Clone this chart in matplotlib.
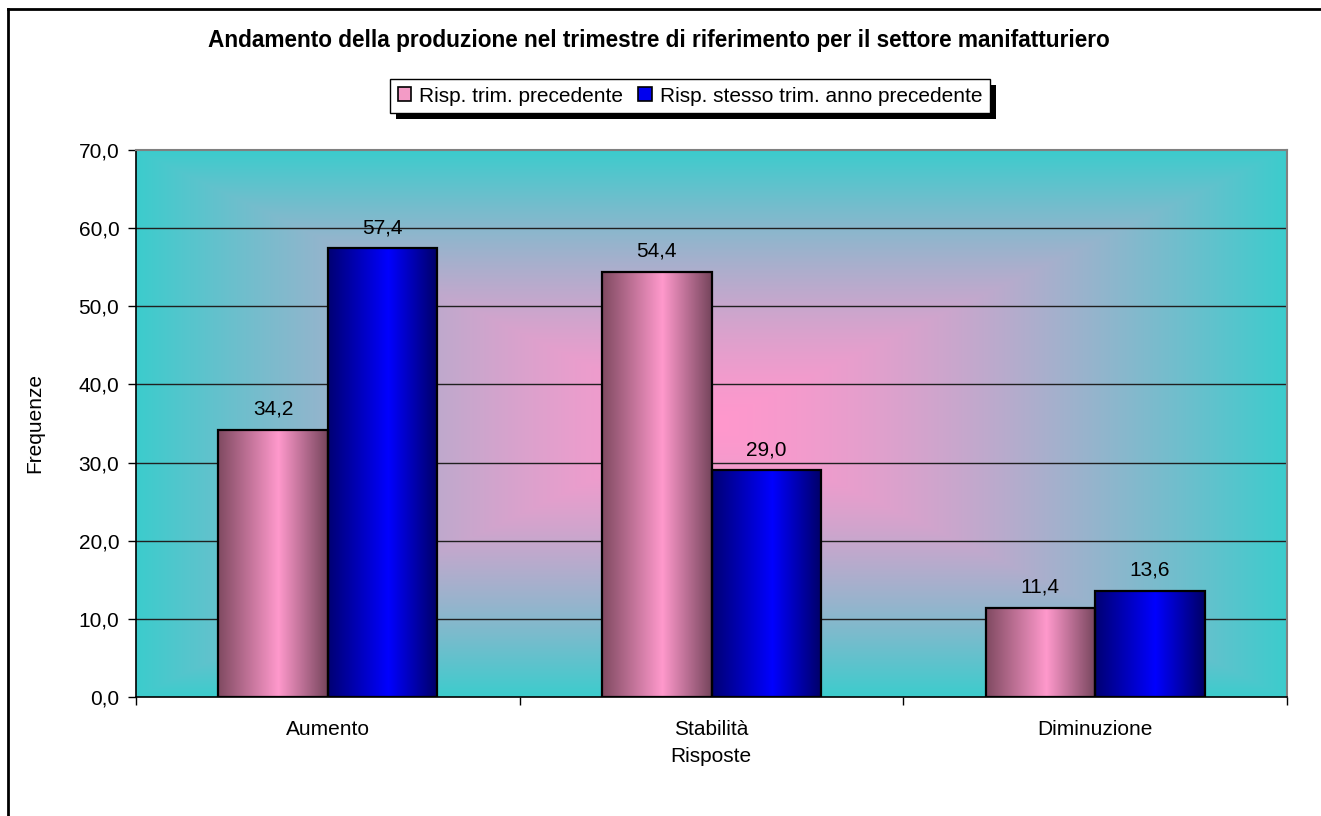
import numpy as np
import matplotlib
matplotlib.use("Agg")
import matplotlib.pyplot as plt
from matplotlib.patches import Rectangle, Patch
from matplotlib.lines import Line2D
from matplotlib.colors import LinearSegmentedColormap

plt.rcParams['font.family'] = ['Liberation Sans', 'DejaVu Sans']

categories = ["Aumento", "Stabilità", "Diminuzione"]
series_names = ["Risp. trim. precedente", "Risp. stesso trim. anno precedente"]
prev_quarter = [34.2, 54.4, 11.4]
prev_year = [57.4, 29.0, 13.6]
yticks = [0, 10, 20, 30, 40, 50, 60, 70]
title = "Andamento della produzione nel trimestre di riferimento per il settore manifatturiero"

FS = 15

W, H = 1321, 816
fig = plt.figure(figsize=(W / 100, H / 100), dpi=100)
fig.patch.set_facecolor("white")

def fx(px):
    return px / W

def fy(py):
    return 1 - py / H

# outer frame (left and top)
fig.add_artist(Line2D([fx(8), fx(8)], [fy(9), 0], color="black", lw=2))
fig.add_artist(Line2D([fx(8), 1], [fy(9), fy(9)], color="black", lw=2))

ax = fig.add_axes([fx(136), fy(697), fx(1287) - fx(136), fy(150) - fy(697)])
ax.set_xlim(0.5, 3.5)
ax.set_ylim(0, 70)

# background: rectangular "from center" gradient pink -> cyan
ny, nx = 300, 500
u = np.linspace(-1, 1, nx)[None, :]
v = np.linspace(-1, 1, ny)[:, None]
t = np.maximum(np.abs(u), np.abs(v))
t = np.clip(t, 0, 1) ** 1.5
center = np.array([255, 152, 205]) / 255.0
edge = np.array([60, 204, 204]) / 255.0
img = center[None, None, :] * (1 - t[..., None]) + edge[None, None, :] * t[..., None]
ax.imshow(img, extent=(0.5, 3.5, 0, 70), aspect="auto", zorder=0, interpolation="bilinear")

# gridlines
for yv in yticks[1:-1]:
    ax.axhline(yv, color="#202020", lw=1.0, zorder=1)

x = np.arange(1, len(categories) + 1)
bw = 1 / 3.5
pink_cmap = LinearSegmentedColormap.from_list(
    "pk", [(0.0, (0.50, 0.29, 0.38)), (0.55, (1.0, 0.60, 0.80)), (1.0, (0.46, 0.27, 0.36))])
blue_cmap = LinearSegmentedColormap.from_list(
    "bl", [(0.0, (0.0, 0.0, 0.45)), (0.55, (0.0, 0.0, 1.0)), (1.0, (0.0, 0.0, 0.40))])

grad = np.linspace(0, 1, 256)[None, :]
for vals, off, cmap in [(prev_quarter, -bw / 2, pink_cmap), (prev_year, bw / 2, blue_cmap)]:
    bars = ax.bar(x + off, vals, width=bw, facecolor="none", edgecolor="black", lw=1.6, zorder=3)
    for b, val in zip(bars, vals):
        x0, y0 = b.get_x(), b.get_y()
        w, h = b.get_width(), b.get_height()
        im = ax.imshow(grad, extent=(x0, x0 + w, y0, y0 + h), aspect="auto", cmap=cmap,
                       zorder=2, interpolation="bilinear")
        im.set_clip_path(b)
        ax.annotate(f"{val:.1f}".replace(".", ","), (x0 + w / 2, val), xytext=(0, 8),
                    textcoords="offset points", ha="center", va="bottom", fontsize=FS)
ax.set_xlim(0.5, 3.5)
ax.set_ylim(0, 70)

# spines
for s in ["top", "right"]:
    ax.spines[s].set_color("#808080")
    ax.spines[s].set_linewidth(1.5)
ax.spines["left"].set_color("black")
ax.spines["bottom"].set_color("black")
ax.spines["left"].set_linewidth(1.2)
ax.spines["bottom"].set_linewidth(1.2)

ax.set_yticks(yticks)
ax.set_yticklabels([f"{v:.1f}".replace(".", ",") for v in yticks], fontsize=FS)
ax.tick_params(axis="y", direction="out", length=6, width=1, pad=6)
ax.set_xticks([0.5, 1.5, 2.5, 3.5])
ax.set_xticklabels([])
ax.set_xticks(x, minor=True)
ax.set_xticklabels(categories, minor=True, fontsize=FS)
ax.tick_params(axis="x", which="major", direction="out", length=6, width=1)
ax.tick_params(axis="x", which="minor", length=0, pad=16.5)

fig.text(fx(35), fy(423), "Frequenze", rotation=90, ha="center", va="center", fontsize=FS)
fig.text(fx(711), fy(757), "Risposte", ha="center", va="center", fontsize=FS)
fig.text(fx(659), fy(40), title, ha="center", va="center", fontsize=16.3, fontweight="bold")

handles = [Patch(facecolor="#F39BC6", edgecolor="black", lw=1.2),
           Patch(facecolor="#0000EE", edgecolor="black", lw=1.2)]
leg = fig.legend(handles, series_names, loc="center", bbox_to_anchor=(fx(690), fy(96)),
                 ncol=2, fontsize=FS, frameon=True, fancybox=False, edgecolor="black",
                 facecolor="white", framealpha=1.0,
                 handlelength=0.65, handleheight=0.65, handletextpad=0.4, columnspacing=0.7,
                 borderpad=0.35, borderaxespad=0)
leg.get_frame().set_linewidth(1.0)
leg.set_zorder(10)
fig.canvas.draw()
bb = leg.get_window_extent()
inv = fig.transFigure.inverted()
(x0f, y0f), (x1f, y1f) = inv.transform([(bb.x0, bb.y0), (bb.x1, bb.y1)])
fig.add_artist(Rectangle((x0f + fx(6), y0f - 6 / H), x1f - x0f, y1f - y0f,
                         transform=fig.transFigure, facecolor="black", edgecolor="none", zorder=9))

fig.savefig("out.png", dpi=100)
